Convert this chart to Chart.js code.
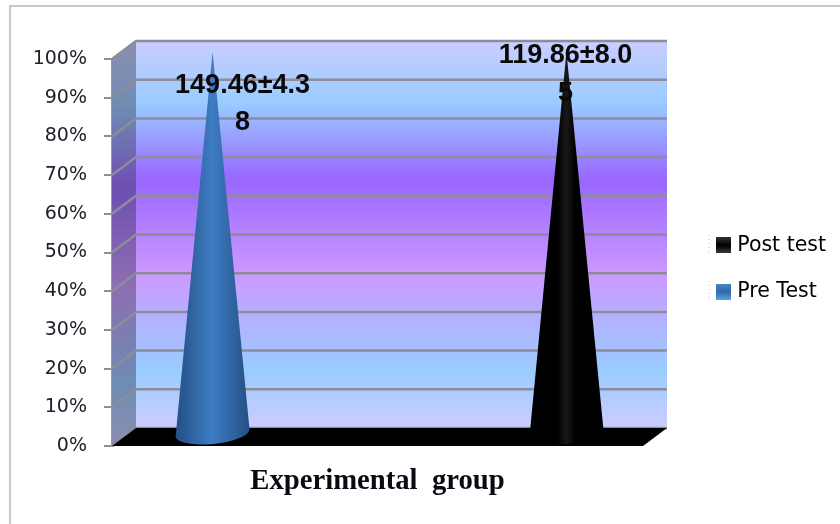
<!DOCTYPE html>
<html>
<head>
<meta charset="utf-8">
<title>Experimental group</title>
<script src="https://cdn.jsdelivr.net/npm/chart.js@4/dist/chart.umd.min.js"></script>
<style>
  html, body { margin: 0; padding: 0; background: #fff; }
  canvas { display: block; }
</style>
</head>
<body>
<canvas id="coneChart" width="840" height="524"></canvas>
<script>
// data
const categories = ["Experimental  group"];
const preTest = [100];
const postTest = [100];
const preLabel = ["149.46±4.3", "8"];
const postLabel = ["119.86±8.0", "5"];
const yMax = 100;
const yStep = 10;

// how far the back wall sits behind the front axis plane
const depthX = 24;
const depthY = -18;

function shade(ctx, top, bottom) {
  const g = ctx.createLinearGradient(0, top, 0, bottom);
  const stops = [
    [0, "#cbcdff"], [0.16, "#99ccff"], [0.36, "#9966ff"],
    [0.6, "#cc99ff"], [0.85, "#99ccff"], [1, "#ccccff"]
  ];
  stops.forEach(function (s) { g.addColorStop(s[0], s[1]); });
  return g;
}

// 4px of empty room on the left so the square lands right next to its text
function swatch(light, dark, corner) {
  const c = document.createElement("canvas");
  c.width = 19;
  c.height = 16;
  const x = c.getContext("2d");
  const g = x.createLinearGradient(0, 0, 0, 16);
  g.addColorStop(0, corner);
  g.addColorStop(0.5, dark);
  g.addColorStop(1, light);
  x.fillStyle = g;
  x.fillRect(4, 0, 15, 16);
  return c;
}

const coneColors = [
  { edge: "#234f84", mid: "#3f7cc2", from: 0 },
  { edge: "#000000", mid: "#181818", from: 0.38 }
];
const labelPlaces = [
  { dx: 30, top: 86, gap: 37, lines: preLabel },
  { dx: -1, top: 56, gap: 38, lines: postLabel }
];

const conePlugin = {
  id: "conePlugin",
  afterLayout: function (chart) {
    // legend sits out in the right margin
    const lg = chart.legend;
    lg.left = 690;
    lg.top = 209;
    lg.right = 840;
    lg.bottom = 524;
  },
  beforeDraw: function (chart) {
    const ctx = chart.ctx;
    ctx.save();
    ctx.strokeStyle = "#c9c9c9";
    ctx.lineWidth = 2;
    ctx.strokeRect(10, 6, 900, 700);
    ctx.restore();
  },
  beforeDatasetsDraw: function (chart) {
    const ctx = chart.ctx;
    const a = chart.chartArea;
    const y = chart.scales.y;
    const l = a.left, r = a.right, t = a.top, b = a.bottom;
    ctx.save();

    // back wall
    ctx.fillStyle = shade(ctx, t + depthY, b + depthY);
    ctx.fillRect(l + depthX, t + depthY, r - l, b - t);

    // side wall
    ctx.beginPath();
    ctx.moveTo(l, t);
    ctx.lineTo(l + depthX, t + depthY);
    ctx.lineTo(l + depthX, b + depthY);
    ctx.lineTo(l, b);
    ctx.closePath();
    ctx.fillStyle = shade(ctx, t + depthY, b);
    ctx.fill();
    ctx.fillStyle = "rgba(40,40,50,0.38)";
    ctx.fill();

    // grid on the walls
    ctx.strokeStyle = "#8c8c9a";
    ctx.lineWidth = 2.5;
    y.ticks.forEach(function (tick) {
      const py = y.getPixelForValue(tick.value);
      ctx.beginPath();
      ctx.moveTo(l, py);
      ctx.lineTo(l + depthX, py + depthY);
      ctx.lineTo(r + depthX, py + depthY);
      ctx.stroke();
    });

    // floor
    ctx.beginPath();
    ctx.moveTo(l, b);
    ctx.lineTo(l + depthX, b + depthY);
    ctx.lineTo(r + depthX, b + depthY);
    ctx.lineTo(r, b);
    ctx.closePath();
    ctx.fillStyle = "#000";
    ctx.fill();
    ctx.restore();
  },
  afterDatasetsDraw: function (chart) {
    const ctx = chart.ctx;
    ctx.save();

    chart.data.datasets.forEach(function (ds, i) {
      chart.getDatasetMeta(i).data.forEach(function (bar) {
        const cx = bar.x + depthX / 2;
        const tipY = bar.y + depthY / 2 + 2;
        const baseY = bar.base - 12;
        const rx = bar.width / 2;
        const ry = 11;
        const tilt = -0.1;
        const col = coneColors[i];
        const g = ctx.createLinearGradient(cx - rx, 0, cx + rx, 0);
        g.addColorStop(col.from, col.edge);
        g.addColorStop(0.5, col.mid);
        g.addColorStop(1 - col.from, col.edge);
        ctx.fillStyle = g;
        ctx.beginPath();
        ctx.moveTo(cx, tipY);
        ctx.lineTo(cx + rx * Math.cos(tilt), baseY + rx * Math.sin(tilt));
        ctx.ellipse(cx, baseY, rx, ry, tilt, 0, Math.PI);
        ctx.closePath();
        ctx.fill();

        // value label
        const p = labelPlaces[i];
        ctx.fillStyle = "#0a0a0a";
        ctx.font = "bold 27px 'Liberation Sans'";
        ctx.textAlign = "center";
        ctx.textBaseline = "middle";
        p.lines.forEach(function (line, n) {
          ctx.fillText(line, cx + p.dx, p.top + n * p.gap);
        });
      });
    });

    // little dotted marks left of the legend swatches
    ctx.strokeStyle = "#bdbdbd";
    ctx.setLineDash([1, 3]);
    ctx.lineWidth = 1;
    [235, 281].forEach(function (py) {
      ctx.beginPath();
      ctx.moveTo(709, py);
      ctx.lineTo(709, py + 20);
      ctx.stroke();
    });
    ctx.restore();
  }
};

const swatches = [
  swatch("#5aa0e0", "#2f6aa8", "#4a86c4"),
  swatch("#3a3a3a", "#000000", "#333333")
];

new Chart(document.getElementById("coneChart"), {
  type: "bar",
  plugins: [conePlugin],
  data: {
    labels: categories,
    datasets: [
      { label: "Pre Test", data: preTest, backgroundColor: "rgba(0,0,0,0)" },
      { label: "Post test", data: postTest, backgroundColor: "rgba(0,0,0,0)" }
    ]
  },
  options: {
    responsive: false,
    animation: false,
    categoryPercentage: 1.333,
    barPercentage: 0.21,
    layout: { padding: { top: 59, right: 197, bottom: 0, left: 0 } },
    scales: {
      x: {
        grid: { display: false },
        border: { display: false },
        afterFit: function (scale) { scale.height = 78; },
        ticks: {
          maxRotation: 0,
          padding: 10,
          color: "#0a0a14",
          font: { family: "'Liberation Serif'", weight: "bold", size: 28.7 }
        }
      },
      y: {
        min: 0,
        max: yMax,
        afterFit: function (scale) { scale.width = 112; },
        grid: { drawOnChartArea: false, tickLength: 8, color: "#8f8f8f", lineWidth: 2 },
        border: { color: "#9a9a9a", width: 3 },
        ticks: {
          stepSize: yStep,
          padding: 17,
          color: "#20202c",
          font: { family: "'DejaVu Sans'", size: 19 },
          callback: function (v) { return v + "%"; }
        }
      }
    },
    plugins: {
      tooltip: { enabled: false },
      legend: {
        position: "chartArea",
        align: "start",
        reverse: true,
        labels: {
          usePointStyle: true,
          pointStyleWidth: 11,
          boxHeight: 16,
          padding: 26,
          color: "#20202c",
          font: { family: "'DejaVu Sans'", size: 20.5 },
          generateLabels: function (chart) {
            return chart.data.datasets.map(function (ds, i) {
              return {
                text: ds.label,
                pointStyle: swatches[i],
                datasetIndex: i,
                lineWidth: 0,
                strokeStyle: "rgba(0,0,0,0)",
                fillStyle: "rgba(0,0,0,0)"
              };
            });
          }
        }
      }
    }
  }
});
</script>
</body>
</html>
